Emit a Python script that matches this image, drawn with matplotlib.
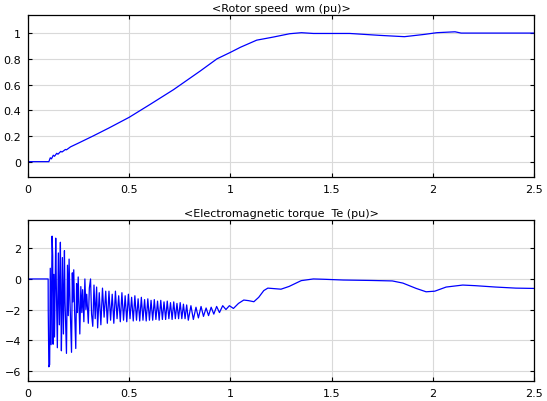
import numpy as np
import matplotlib
matplotlib.use("Agg")
import matplotlib.pyplot as plt

# rotor speed wm (pu)
speed_t = [0.0, 0.103, 0.110, 0.116, 0.125, 0.131, 0.142, 0.148, 0.162, 0.168,
           0.185, 0.190, 0.210, 0.250, 0.322, 0.400, 0.500, 0.603, 0.719, 0.851,
           0.934, 1.000, 1.050, 1.130, 1.195, 1.215, 1.293, 1.351, 1.410, 1.590,
           1.740, 1.860, 1.960, 2.020, 2.110, 2.140, 2.500]
speed_v = [0.0, 0.0, 0.030, 0.022, 0.050, 0.042, 0.065, 0.058, 0.080, 0.075,
           0.095, 0.092, 0.115, 0.145, 0.200, 0.262, 0.345, 0.445, 0.560, 0.705,
           0.800, 0.850, 0.890, 0.945, 0.964, 0.970, 0.995, 1.003, 0.997, 0.997,
           0.982, 0.972, 0.990, 1.003, 1.010, 1.000, 1.000]

# electromagnetic torque Te (pu)
torque_t = [0.0, 0.0995, 0.100, 0.103, 0.107, 0.110, 0.114, 0.119, 0.122, 0.124,
            0.128, 0.131, 0.137, 0.140, 0.145, 0.150, 0.155, 0.160, 0.162, 0.165,
            0.170, 0.175, 0.180, 0.183, 0.190, 0.195, 0.199, 0.203, 0.207, 0.215,
            0.219, 0.222, 0.226, 0.230, 0.236, 0.240, 0.244, 0.248, 0.252, 0.256,
            0.261, 0.266, 0.270, 0.276, 0.281, 0.286, 0.290, 0.298, 0.303, 0.309,
            0.314, 0.320, 0.326, 0.332, 0.339, 0.344,
            0.352, 0.360, 0.368, 0.376, 0.384, 0.392, 0.400, 0.408, 0.416, 0.424,
            0.432, 0.440, 0.448, 0.456, 0.464, 0.472, 0.480, 0.488, 0.496, 0.504,
            0.512, 0.520, 0.528, 0.536, 0.544, 0.552, 0.560, 0.568, 0.576, 0.584,
            0.592, 0.600, 0.608, 0.616, 0.624, 0.632, 0.640, 0.648, 0.656, 0.664,
            0.672, 0.680, 0.688, 0.696, 0.704, 0.712, 0.720, 0.728, 0.736, 0.744,
            0.752, 0.760, 0.768, 0.776, 0.784, 0.792,
            0.805, 0.817, 0.830, 0.842, 0.855, 0.867, 0.880, 0.892, 0.905, 0.918,
            0.932, 0.946, 0.962, 0.978, 0.995, 1.015, 1.040, 1.066, 1.090, 1.116,
            1.140, 1.165, 1.185, 1.205, 1.250, 1.290, 1.350, 1.410, 1.460, 1.557,
            1.700, 1.800, 1.852, 1.918, 1.967, 2.010, 2.066, 2.148, 2.210, 2.310,
            2.410, 2.500]
torque_v = [0.0, 0.0, -2.1, -5.75, -5.6, 0.7, -4.3, 2.8, 1.5, -4.27,
            0.3, -3.8, 2.67, -0.5, -4.5, 1.7, -3.0, 2.4, -1.0, -4.7,
            1.4, -3.6, 1.85, -1.5, -4.87, 0.9, -2.4, 1.3, -1.3, -4.8,
            0.4, -1.5, 0.6, -2.0, -4.55, -0.3, -2.2, 0.13, -1.7, -3.6,
            -0.5, -2.2, -0.7, -2.8, 0.0, -2.0, -1.0, -2.9, -0.6, 0.0,
            -2.3, -3.1, -0.4, -2.6, -0.53, -3.2,
            -0.9, -3.0, -0.6, -2.5, -0.8, -2.9, -0.8, -2.7, -1.0, -2.9,
            -0.8, -2.6, -1.1, -2.8, -0.9, -2.7, -1.1, -2.8, -1.0, -2.6,
            -1.2, -2.75, -1.1, -2.7, -1.3, -2.75, -1.2, -2.7, -1.35, -2.75,
            -1.3, -2.7, -1.4, -2.7, -1.35, -2.65, -1.45, -2.7, -1.4, -2.65,
            -1.5, -2.65, -1.45, -2.6, -1.55, -2.65, -1.5, -2.6, -1.6, -2.6,
            -1.55, -2.6, -1.65, -2.6, -1.7, -2.7,
            -1.75, -2.65, -1.85, -2.55, -1.8, -2.45, -1.9, -2.4, -1.85, -2.3,
            -1.8, -2.2, -1.75, -2.0, -1.75, -1.93, -1.6, -1.38, -1.42, -1.49,
            -1.2, -0.76, -0.6, -0.62, -0.67, -0.49, -0.11, 0.0, -0.02, -0.07,
            -0.1, -0.13, -0.27, -0.62, -0.84, -0.8, -0.53, -0.4, -0.44, -0.53,
            -0.6, -0.62]

x_ticks = [0, 0.5, 1, 1.5, 2, 2.5]
x_labels = ["0", "0.5", "1", "1.5", "2", "2.5"]

plt.rcParams["font.family"] = "DejaVu Sans"
plt.rcParams["font.size"] = 8

fig = plt.figure(figsize=(5.47, 4.02), dpi=100)
fig.patch.set_facecolor("white")
ax1 = fig.add_axes([0.0512, 0.557, 0.925, 0.403])
ax2 = fig.add_axes([0.0512, 0.050, 0.925, 0.400])

ax1.plot(speed_t, speed_v, color="#0000ff", lw=0.9)
ax1.set_ylim(-0.12, 1.14)
ax1.set_yticks([0, 0.2, 0.4, 0.6, 0.8, 1])
ax1.set_yticklabels(["0", "0.2", "0.4", "0.6", "0.8", "1"])
ax1.set_title("<Rotor speed  wm (pu)>", fontsize=8, pad=3)

ax2.plot(torque_t, torque_v, color="#0000ff", lw=0.9)
ax2.set_ylim(-6.67, 3.85)
ax2.set_yticks([-6, -4, -2, 0, 2])
ax2.set_title("<Electromagnetic torque  Te (pu)>", fontsize=8, pad=3)

for ax in (ax1, ax2):
    ax.set_xlim(0, 2.5)
    ax.set_xticks(x_ticks)
    ax.set_xticklabels(x_labels)
    ax.grid(True, color="#d9d9d9", lw=0.8)
    ax.set_axisbelow(True)
    ax.tick_params(direction="in", length=3, width=0.8, top=True, right=True,
                   labelsize=8, pad=5)
    for s in ax.spines.values():
        s.set_linewidth(0.9)

fig.savefig("out.png", dpi=100)
